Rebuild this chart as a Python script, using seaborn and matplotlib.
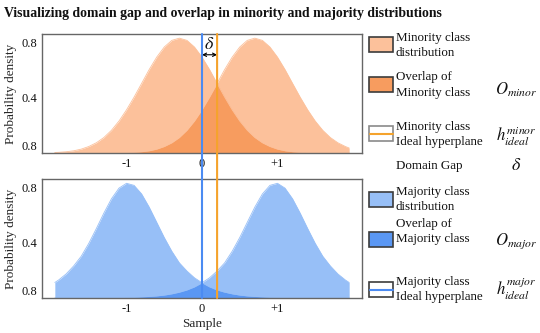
import matplotlib
import numpy as np
import pandas as pd
import seaborn as sns

matplotlib.use("Agg")
import matplotlib.pyplot as plt
from matplotlib.patches import ConnectionPatch, Rectangle
from matplotlib.lines import Line2D


# values
SAMPLE = [-1.95, -1.9, -1.8, -1.7, -1.6, -1.5, -1.4, -1.3, -1.2, -1.1, -1.0,
          -0.9, -0.8, -0.7, -0.6, -0.5, -0.4, -0.3, -0.2, -0.1, 0.0,
          0.1, 0.2, 0.3, 0.4, 0.5, 0.6, 0.7, 0.8, 0.9, 1.0,
          1.1, 1.2, 1.3, 1.4, 1.5, 1.6, 1.7, 1.8, 1.9, 1.95]
MINOR_LEFT = [0.004, 0.005, 0.009, 0.016, 0.028, 0.047, 0.074, 0.112, 0.164, 0.231, 0.312,
              0.404, 0.503, 0.603, 0.693, 0.766, 0.814, 0.830, 0.814, 0.766, 0.693,
              0.603, 0.503, 0.404, 0.312, 0.231, 0.164, 0.112, 0.074, 0.047, 0.028,
              0.016, 0.009, 0.005, 0.003, 0.001, 0.001, 0.0, 0.0, 0.0, 0.0]
MINOR_RIGHT = [0.0, 0.0, 0.0, 0.0, 0.0, 0.0, 0.0, 0.0, 0.001, 0.001, 0.003,
               0.005, 0.009, 0.016, 0.028, 0.047, 0.074, 0.112, 0.164, 0.231, 0.312,
               0.404, 0.503, 0.603, 0.693, 0.766, 0.814, 0.830, 0.814, 0.766, 0.693,
               0.603, 0.503, 0.404, 0.312, 0.231, 0.164, 0.112, 0.074, 0.047, 0.036]
MAJOR_LEFT = [0.112, 0.130, 0.174, 0.232, 0.302, 0.395, 0.502, 0.614, 0.717, 0.794, 0.829,
              0.814, 0.752, 0.657, 0.547, 0.437, 0.338, 0.254, 0.195, 0.146, 0.110,
              0.080, 0.058, 0.042, 0.030, 0.021, 0.015, 0.011, 0.008, 0.005, 0.004,
              0.002, 0.002, 0.001, 0.001, 0.001, 0.0, 0.0, 0.0, 0.0, 0.0]
MAJOR_RIGHT = MAJOR_LEFT[::-1]

MAJOR_HYPERPLANE = 0.0
MINOR_HYPERPLANE = 0.2

X_TICKS = [-1, 0, 1]
X_TICK_LABELS = ["-1", "0", "+1"]
Y_TICKS = [0.055, 0.40, 0.80]
Y_TICK_LABELS = ["0.8", "0.4", "0.8"]

MINOR_LIGHT = "#FCC19B"
MINOR_DARK = "#F79C5F"
MAJOR_LIGHT = "#97BFF7"
MAJOR_DARK = "#5A97F3"
BLUE_LINE = "#4B8BF2"
ORANGE_LINE = "#F5A32C"

W, H = 540, 333


def fx(px):
    return px / W


def fy(py):
    return 1 - py / H


def apply_theme():
    sns.set_theme(style="white")
    plt.rcParams.update({
        "font.family": ["Liberation Serif", "DejaVu Serif"],
        "mathtext.fontset": "stix",
        "axes.edgecolor": "#666666",
        "axes.linewidth": 1.0,
        "xtick.labelsize": 9,
        "ytick.labelsize": 9,
        "axes.labelsize": 9.5,
        "text.color": "#111111",
        "xtick.color": "#111111",
        "ytick.color": "#111111",
    })


def draw_panel(ax, df, light, dark):
    ax.fill_between(df["x"], df["left"], 0, color=light, linewidth=0)
    ax.fill_between(df["x"], df["right"], 0, color=light, linewidth=0)
    ax.fill_between(df["x"], np.minimum(df["left"], df["right"]), 0, color=dark, linewidth=0)
    sns.lineplot(data=df, x="x", y="left", ax=ax, color=light, linewidth=0.6)
    sns.lineplot(data=df, x="x", y="right", ax=ax, color=light, linewidth=0.6)
    ax.set_xlim(-2.12, 2.12)
    ax.set_ylim(0, 0.86)
    ax.set_xticks(X_TICKS, X_TICK_LABELS)
    ax.set_yticks(Y_TICKS, Y_TICK_LABELS)
    ax.tick_params(length=0, pad=3.5)
    ax.set_ylabel("Probability density", labelpad=3)
    ax.set_xlabel("")


def legend_patch(fig, y_top, color, edge="#3c3c3c", line=None):
    fig.add_artist(Rectangle((fx(369), fy(y_top + 15)), 24 / W, 15 / H,
                             transform=fig.transFigure, facecolor=color,
                             edgecolor=edge, linewidth=1.2))
    if line is not None:
        fig.add_artist(Line2D([fx(369.5), fx(392.5)], [fy(y_top + 7.5)] * 2,
                              transform=fig.transFigure, color=line, linewidth=1.5))


def legend_text(fig, y, label):
    fig.text(fx(396), fy(y), label, fontsize=9.4, va="center", linespacing=1.38)


def main():
    apply_theme()
    fig = plt.figure(figsize=(W / 100, H / 100), dpi=100)
    ax_top = fig.add_axes([fx(42), fy(153), 320 / W, 119 / H])
    ax_bot = fig.add_axes([fx(42), fy(298), 320 / W, 119 / H])

    minor = pd.DataFrame({"x": SAMPLE, "left": MINOR_LEFT, "right": MINOR_RIGHT})
    major = pd.DataFrame({"x": SAMPLE, "left": MAJOR_LEFT, "right": MAJOR_RIGHT})
    draw_panel(ax_top, minor, MINOR_LIGHT, MINOR_DARK)
    draw_panel(ax_bot, major, MAJOR_LIGHT, MAJOR_DARK)
    ax_bot.set_xlabel("Sample", labelpad=2)

    # hyperplanes run through both panels
    for xv, col in [(MAJOR_HYPERPLANE, BLUE_LINE), (MINOR_HYPERPLANE, ORANGE_LINE)]:
        con = ConnectionPatch(xyA=(xv, 0.86), coordsA="data", axesA=ax_top,
                              xyB=(xv, 0), coordsB="data", axesB=ax_bot,
                              color=col, linewidth=1.5, zorder=5)
        fig.add_artist(con)

    # domain gap arrow
    ax_top.annotate("", xy=(MAJOR_HYPERPLANE, 0.71), xytext=(MINOR_HYPERPLANE, 0.71),
                    arrowprops=dict(arrowstyle="<->", color="black", lw=0.8,
                                    shrinkA=0, shrinkB=0, mutation_scale=6))
    ax_top.text((MAJOR_HYPERPLANE + MINOR_HYPERPLANE) / 2, 0.785, r"$\delta$",
                ha="center", va="center", fontsize=13)

    fig.text(fx(4), fy(13), "Visualizing domain gap and overlap in minority and majority distributions",
             fontsize=9.9, fontweight="bold", ha="left", va="center")

    # legend column
    sx = fx(516)
    legend_patch(fig, 37, MINOR_LIGHT)
    legend_text(fig, 45.5, "Minority class\ndistribution")
    legend_patch(fig, 77, MINOR_DARK)
    legend_text(fig, 85, "Overlap of\nMinority class")
    fig.text(sx, fy(90), r"$O_{minor}$", fontsize=12, ha="center", va="center")
    legend_patch(fig, 126, "white", edge="#8a8a8a", line=ORANGE_LINE)
    legend_text(fig, 134.5, "Minority class\nIdeal hyperplane")
    fig.text(sx, fy(136), r"$h_{ideal}^{minor}$", fontsize=12, ha="center", va="center")
    legend_text(fig, 166, "Domain Gap")
    fig.text(sx, fy(165), r"$\delta$", fontsize=13, ha="center", va="center")

    legend_patch(fig, 192, MAJOR_LIGHT)
    legend_text(fig, 199.5, "Majority class\ndistribution")
    legend_patch(fig, 232, MAJOR_DARK)
    legend_text(fig, 231.5, "Overlap of\nMajority class")
    fig.text(sx, fy(241), r"$O_{major}$", fontsize=12, ha="center", va="center")
    legend_patch(fig, 282, "white", edge="#3c3c3c", line=BLUE_LINE)
    legend_text(fig, 289.5, "Majority class\nIdeal hyperplane")
    fig.text(sx, fy(289), r"$h_{ideal}^{major}$", fontsize=12, ha="center", va="center")

    fig.savefig("out.png", dpi=100, facecolor="white")
    plt.close(fig)


if __name__ == "__main__":
    main()
